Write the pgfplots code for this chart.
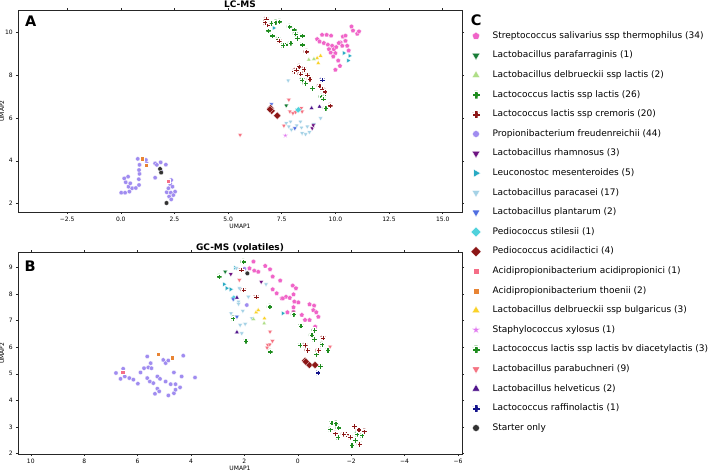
\documentclass[border=0pt]{standalone}
\usepackage{pgfplots}
\pgfplotsset{compat=1.18}
\usepackage{fontspec}
\setmainfont{DejaVu Sans}

\definecolor{cStrep}{RGB}{240,100,200}
\definecolor{cParaf}{RGB}{25,125,55}
\definecolor{cDelbL}{RGB}{175,222,135}
\definecolor{cLactis}{RGB}{30,140,30}
\definecolor{cCrem}{RGB}{140,22,22}
\definecolor{cProp}{RGB}{160,140,240}
\definecolor{cRham}{RGB}{110,20,130}
\definecolor{cLeuc}{RGB}{40,170,195}
\definecolor{cParac}{RGB}{165,210,230}
\definecolor{cPlant}{RGB}{80,110,225}
\definecolor{cStil}{RGB}{80,210,220}
\definecolor{cAcidil}{RGB}{140,22,22}
\definecolor{cAcidip}{RGB}{245,110,135}
\definecolor{cThoe}{RGB}{232,132,52}
\definecolor{cBulg}{RGB}{250,210,40}
\definecolor{cXyl}{RGB}{225,120,240}
\definecolor{cDiac}{RGB}{30,140,30}
\definecolor{cParab}{RGB}{245,115,130}
\definecolor{cHelv}{RGB}{80,20,140}
\definecolor{cRaff}{RGB}{20,20,140}
\definecolor{cStart}{RGB}{50,50,50}
\definecolor{frame}{RGB}{38,38,38}

\pgfdeclareplotmark{Pplus}{%
  \pgfpathmoveto{\pgfpoint{-0.42\pgfplotmarksize}{\pgfplotmarksize}}%
  \pgfpathlineto{\pgfpoint{0.42\pgfplotmarksize}{\pgfplotmarksize}}%
  \pgfpathlineto{\pgfpoint{0.42\pgfplotmarksize}{0.42\pgfplotmarksize}}%
  \pgfpathlineto{\pgfpoint{\pgfplotmarksize}{0.42\pgfplotmarksize}}%
  \pgfpathlineto{\pgfpoint{\pgfplotmarksize}{-0.42\pgfplotmarksize}}%
  \pgfpathlineto{\pgfpoint{0.42\pgfplotmarksize}{-0.42\pgfplotmarksize}}%
  \pgfpathlineto{\pgfpoint{0.42\pgfplotmarksize}{-\pgfplotmarksize}}%
  \pgfpathlineto{\pgfpoint{-0.42\pgfplotmarksize}{-\pgfplotmarksize}}%
  \pgfpathlineto{\pgfpoint{-0.42\pgfplotmarksize}{-0.42\pgfplotmarksize}}%
  \pgfpathlineto{\pgfpoint{-\pgfplotmarksize}{-0.42\pgfplotmarksize}}%
  \pgfpathlineto{\pgfpoint{-\pgfplotmarksize}{0.42\pgfplotmarksize}}%
  \pgfpathlineto{\pgfpoint{-0.42\pgfplotmarksize}{0.42\pgfplotmarksize}}%
  \pgfpathclose
  \pgfusepathqfillstroke}
\pgfdeclareplotmark{fstar}{%
  \pgfpathmoveto{\pgfpoint{0pt}{\pgfplotmarksize}}%
  \pgfpathlineto{\pgfpoint{-0.223\pgfplotmarksize}{0.307\pgfplotmarksize}}%
  \pgfpathlineto{\pgfpoint{-0.951\pgfplotmarksize}{0.309\pgfplotmarksize}}%
  \pgfpathlineto{\pgfpoint{-0.361\pgfplotmarksize}{-0.117\pgfplotmarksize}}%
  \pgfpathlineto{\pgfpoint{-0.588\pgfplotmarksize}{-0.809\pgfplotmarksize}}%
  \pgfpathlineto{\pgfpoint{0pt}{-0.38\pgfplotmarksize}}%
  \pgfpathlineto{\pgfpoint{0.588\pgfplotmarksize}{-0.809\pgfplotmarksize}}%
  \pgfpathlineto{\pgfpoint{0.361\pgfplotmarksize}{-0.117\pgfplotmarksize}}%
  \pgfpathlineto{\pgfpoint{0.951\pgfplotmarksize}{0.309\pgfplotmarksize}}%
  \pgfpathlineto{\pgfpoint{0.223\pgfplotmarksize}{0.307\pgfplotmarksize}}%
  \pgfpathclose
  \pgfusepathqfillstroke}

\pgfplotsset{
  mk/.style n args={3}{only marks, mark=#1,
    mark options={fill=#2, draw=white, line width=0.25pt, #3}},
  sStrep/.style={mk={pentagon*}{cStrep}{}, mark size=2.5pt},
  sParaf/.style={mk={triangle*}{cParaf}{rotate=180}, mark size=2.6pt},
  sDelbL/.style={mk={triangle*}{cDelbL}{}, mark size=2.6pt},
  sLactis/.style={mk={Pplus}{cLactis}{}, mark size=2.7pt},
  sCrem/.style={mk={Pplus}{cCrem}{}, mark size=2.7pt},
  sProp/.style={mk={*}{cProp}{}, mark size=2.2pt},
  sRham/.style={mk={triangle*}{cRham}{rotate=180}, mark size=2.6pt},
  sLeuc/.style={mk={triangle*}{cLeuc}{rotate=-90}, mark size=2.6pt},
  sParac/.style={mk={triangle*}{cParac}{rotate=180}, mark size=2.6pt},
  sPlant/.style={mk={triangle*}{cPlant}{rotate=180}, mark size=2.6pt},
  sStil/.style={mk={square*}{cStil}{rotate=45}, mark size=2.3pt},
  sAcidil/.style={mk={square*}{cAcidil}{rotate=45}, mark size=2.6pt},
  sAcidip/.style={mk={square*}{cAcidip}{}, mark size=2.1pt},
  sThoe/.style={mk={square*}{cThoe}{}, mark size=2.1pt},
  sBulg/.style={mk={triangle*}{cBulg}{}, mark size=2.6pt},
  sXyl/.style={mk={fstar}{cXyl}{}, mark size=2.8pt},
  sDiac/.style={mk={Pplus}{cDiac}{}, mark size=2.7pt},
  sParab/.style={mk={triangle*}{cParab}{rotate=180}, mark size=2.6pt},
  sHelv/.style={mk={triangle*}{cHelv}{}, mark size=2.6pt},
  sRaff/.style={mk={Pplus}{cRaff}{}, mark size=2.7pt},
  sStart/.style={mk={*}{cStart}{}, mark size=2.3pt},
  panel/.style={scale only axis, width=444pt, anchor=south west,
    axis line style={frame, line width=0.9pt},
    tick align=outside, major tick length=2pt,
    tick style={frame, line width=0.5pt},
    tick label style={font=\fontsize{6}{7}\selectfont},
    label style={font=\fontsize{6}{7}\selectfont},
    xticklabel style={anchor=center, yshift=-5pt},
    yticklabel style={anchor=east, inner sep=0pt, xshift=-3pt},
    xlabel={UMAP1}, ylabel={UMAP2},
    clip=false},
}

\begin{document}
\begin{tikzpicture}
\path[use as bounding box] (0pt,0pt) rectangle (708pt,471pt);

% ---------------- Panel A: LC-MS ----------------
\begin{axis}[panel, at={(18pt,259pt)}, height=202pt,
  xmin=-4.79, xmax=15.9, ymin=1.61, ymax=11.04,
  xtick={-2.5,0,2.5,5,7.5,10,12.5,15},
  xticklabels={−2.5,0.0,2.5,5.0,7.5,10.0,12.5,15.0},
  ytick={2,4,6,8,10}, yticklabels={2,4,6,8,10},
  xlabel style={at={(rel axis cs:0.5,-0.073)}, anchor=center},
  ylabel style={at={(rel axis cs:-0.036,0.5)}, anchor=center}]
\addplot[sProp] coordinates {(0.02,2.51)(0.20,2.51)(0.40,2.56)(0.36,2.79)(0.53,2.72)(0.70,2.73)(0.85,2.87)(0.23,3.00)(0.44,2.95)(0.16,3.18)(0.34,3.26)(0.84,3.14)(0.87,3.39)(0.85,3.57)(0.87,3.81)(0.79,4.09)(1.03,4.07)(1.21,3.88)(1.17,4.04)(1.60,3.88)(1.86,3.93)(2.10,3.82)(1.60,3.21)(1.88,3.50)(2.30,2.92)(2.41,2.79)(2.53,2.56)(2.14,2.53)(2.33,2.51)(2.25,2.33)(2.35,2.20)(2.45,2.40)(2.22,2.72)(1.68,3.81)(2.35,3.10)};
\addplot[sThoe] coordinates {(0.98,4.10)(1.18,3.80)};
\addplot[sAcidip] coordinates {(2.19,3.06)};
\addplot[sStart] coordinates {(1.83,3.62)(1.88,3.45)(2.13,2.03)};
\addplot[sStrep] coordinates {(9.38,9.88)(9.59,9.88)(9.80,9.84)(9.15,9.68)(9.26,9.57)(9.46,9.50)(9.65,9.42)(9.85,9.37)(9.70,9.21)(9.93,9.21)(10.04,9.31)(10.24,9.52)(10.35,9.80)(10.47,9.60)(10.32,9.37)(10.55,9.37)(10.0,9.03)(9.90,8.87)(10.13,8.68)(10.21,8.43)(10.0,8.25)(10.75,10.27)(10.82,10.08)(11.02,9.93)(11.10,10.04)(10.47,9.84)(10.16,9.50)(9.78,9.05)(10.62,9.15)};
\addplot[sLactis] coordinates {(7.02,10.43)(7.21,10.46)(7.39,10.50)(6.87,10.08)(7.05,9.84)(7.33,9.68)(7.67,9.42)(7.86,10.27)(8.07,10.12)(8.14,9.93)(8.22,9.73)(8.45,9.84)(8.45,9.42)(7.91,9.50)(8.53,7.70)(8.45,7.78)(8.92,7.39)(9.35,7.00)(9.46,6.93)(9.51,7.16)(9.42,7.31)(9.54,6.46)};
\addplot[sDiac] coordinates {(7.55,9.40)(8.60,7.62)(9.43,6.89)};
\addplot[sCrem] coordinates {(6.77,10.62)(6.82,10.35)(6.71,10.46)(7.37,9.60)(8.65,9.10)(8.30,8.40)(8.53,8.28)(8.07,8.17)(8.17,8.25)(8.37,8.06)(8.69,8.01)(9.26,7.50)(9.38,7.35)(9.51,7.23)(9.75,6.58)(8.80,7.82)};
\addplot[sLeuc] coordinates {(10.40,9.03)(10.66,8.90)(10.60,8.68)(7.13,10.20)(8.20,6.35)};
\addplot[sBulg] coordinates {(9.15,8.79)(9.31,8.90)(9.20,8.56)};
\addplot[sDelbL] coordinates {(8.76,8.72)(9.00,8.75)};
\addplot[sParac] coordinates {(7.80,7.75)(7.71,5.76)(7.83,5.60)(8.37,5.83)(8.42,5.55)(8.45,5.29)(8.61,5.24)(8.79,5.34)(8.69,5.60)(9.00,5.71)(9.31,5.99)(7.91,5.83)(8.20,5.65)(7.95,5.45)};
\addplot[sPlant] coordinates {(8.11,5.52)(7.02,6.64)};
\addplot[sRham] coordinates {(8.92,5.52)(8.97,5.66)};
\addplot[sParab] coordinates {(5.56,5.21)(7.83,6.85)(7.88,6.30)(8.02,6.22)(8.14,6.27)(8.41,6.46)(7.60,5.64)(8.45,6.30)};
\addplot[sStil] coordinates {(8.27,6.38)};
\addplot[sAcidil] coordinates {(6.98,6.46)(7.03,6.33)(7.29,6.11)(6.95,6.40)};
\addplot[sParaf] coordinates {(7.71,6.58)};
\addplot[sHelv] coordinates {(8.89,6.46)(9.26,6.53)};
\addplot[sRaff] coordinates {(9.38,7.78)};
\addplot[sXyl] coordinates {(7.67,5.18)};
\end{axis}

% ---------------- Panel B: GC-MS ----------------
\begin{axis}[panel, at={(18pt,17pt)}, height=201.7pt, x dir=reverse,
  xmin=-6.15, xmax=10.48, ymin=1.99, ymax=9.56,
  xtick={-6,-4,-2,0,2,4,6,8,10},
  xticklabels={−6,−4,−2,0,2,4,6,8,10},
  ytick={2,3,4,5,6,7,8,9}, yticklabels={2,3,4,5,6,7,8,9},
  xlabel style={at={(rel axis cs:0.5,-0.07)}, anchor=center},
  ylabel style={at={(rel axis cs:-0.036,0.5)}, anchor=center}]
\addplot[sProp] coordinates {(6.81,5.03)(6.64,4.81)(6.54,5.19)(6.48,4.90)(6.31,4.84)(6.16,4.78)(5.99,4.63)(5.89,5.05)(5.76,5.21)(5.64,5.65)(5.60,5.24)(5.51,5.40)(5.48,5.21)(5.64,4.84)(5.54,4.71)(5.41,4.65)(5.26,4.90)(5.16,4.81)(5.26,4.44)(5.19,4.34)(5.35,4.25)(5.04,5.52)(4.95,5.40)(4.85,5.50)(4.95,4.71)(4.85,4.19)(4.76,4.61)(4.64,5.05)(4.58,4.61)(4.64,4.27)(4.58,4.40)(4.41,4.49)(4.35,4.90)(4.29,5.68)(3.85,4.86)(2.00,8.94)(1.91,7.58)};
\addplot[sAcidip] coordinates {(6.56,5.06)};
\addplot[sThoe] coordinates {(5.23,5.75)(4.70,5.61)};
\addplot[sStrep] coordinates {(1.66,9.21)(1.81,8.96)(1.63,8.87)(1.48,8.83)(1.22,9.05)(1.04,8.92)(0.94,8.65)(0.66,8.50)(0.94,8.17)(0.79,8.02)(0.60,7.83)(0.44,7.89)(0.30,7.85)(0.19,8.31)(0.07,8.21)(0.16,7.98)(0.13,7.71)(-0.02,7.68)(0.16,7.50)(0.16,7.33)(0.39,7.31)(-0.15,7.21)(-0.27,7.02)(-0.44,7.02)(-0.44,7.61)(-0.61,7.56)(-0.58,7.39)(-0.69,7.31)(-0.77,7.14)(-0.65,6.77)(0.56,7.83)};
\addplot[sLactis] coordinates {(2.04,9.21)(2.95,8.65)(1.06,7.52)(2.43,7.08)(1.95,6.23)(0.16,7.23)(-0.11,6.80)(-0.52,6.46)(-0.61,6.30)(-0.62,6.64)(-0.09,6.08)(-1.12,5.89)(-0.69,5.73)(1.04,5.83)(-0.84,5.29)(-1.27,3.16)(-1.42,3.14)(-1.21,2.91)(-1.52,2.98)(-2.02,2.32)(-2.15,2.51)(-2.21,2.74)(-2.40,2.69)};
\addplot[sDiac] coordinates {(-1.50,2.62)(-2.30,2.40)(-0.90,6.10)};
\addplot[sCrem] coordinates {(2.12,8.90)(2.04,8.15)(1.56,7.89)(-0.27,6.08)(-0.36,5.89)(-0.94,6.35)(-0.77,5.89)(-1.81,2.73)(-1.96,2.63)(-2.11,3.03)(-2.49,2.84)(-2.31,2.36)(-1.71,2.74)(-2.28,2.90)(-1.40,2.76)};
\addplot[sLeuc] coordinates {(2.35,8.98)(2.76,8.36)(2.66,8.21)(2.51,8.17)(0.56,7.27)};
\addplot[sParac] coordinates {(2.19,8.21)(2.37,7.86)(2.22,7.71)(1.85,7.89)(2.06,7.36)(2.50,7.27)(2.16,6.83)(1.97,6.87)(1.72,7.08)(1.19,8.36)(2.10,6.52)(2.30,8.96)(2.22,7.62)};
\addplot[sStil] coordinates {(2.40,7.84)};
\addplot[sPlant] coordinates {(2.28,7.14)(2.42,7.80)};
\addplot[sRham] coordinates {(2.51,8.74)(1.37,8.45)};
\addplot[sHelv] coordinates {(2.28,7.86)(2.28,6.56)};
\addplot[sBulg] coordinates {(1.56,7.31)(1.48,7.39)(1.25,7.08)};
\addplot[sDelbL] coordinates {(1.26,6.89)(1.66,7.05)};
\addplot[sParaf] coordinates {(2.72,8.83)};
\addplot[sParab] coordinates {(2.19,8.52)(1.04,6.58)(0.95,6.23)(1.12,6.08)(1.15,5.98)(1.05,6.10)(-1.21,6.02)};
\addplot[sAcidil] coordinates {(-0.27,5.49)(-0.43,5.33)(-0.65,5.33)(-0.30,5.45)};
\addplot[sRaff] coordinates {(-0.75,5.04)};
\addplot[sStart] coordinates {(1.89,8.77)};
\end{axis}

% ---------------- Labels and legend (pixel frame) ----------------
\begin{axis}[at={(0pt,0pt)}, anchor=south west, scale only axis,
  width=708pt, height=471pt, xmin=0, xmax=708, ymin=0, ymax=471,
  y dir=reverse, hide axis, clip=false,
  legend cell align=left,
  legend image code/.code={\path[draw=none, fill=none] (-5.5pt,-5.5pt) rectangle (5.5pt,5.5pt);
    \draw[#1] plot coordinates {(0pt,0pt)};},
  legend style={at={(axis cs:470.5,30.5)}, anchor=north west, draw=none,
    fill=none, inner sep=0pt, outer sep=0pt,
    font=\fontsize{9}{11}\selectfont, row sep=8.6pt,
    nodes={inner sep=0pt, text height=6.5pt, text depth=2pt},
    /tikz/every odd column/.append style={column sep=11.2pt}}]
\addlegendimage{sStrep, mark size=3.9pt}
\addlegendentry{Streptococcus salivarius ssp thermophilus (34)}
\addlegendimage{sParaf, mark size=4.4pt}
\addlegendentry{Lactobacillus parafarraginis (1)}
\addlegendimage{sDelbL, mark size=4.4pt}
\addlegendentry{Lactobacillus delbrueckii ssp lactis (2)}
\addlegendimage{sLactis, mark size=3.9pt}
\addlegendentry{Lactococcus lactis ssp lactis (26)}
\addlegendimage{sCrem, mark size=3.9pt}
\addlegendentry{Lactococcus lactis ssp cremoris (20)}
\addlegendimage{sProp, mark size=3.4pt}
\addlegendentry{Propionibacterium freudenreichii (44)}
\addlegendimage{sRham, mark size=4.4pt}
\addlegendentry{Lactobacillus rhamnosus (3)}
\addlegendimage{sLeuc, mark size=4.4pt}
\addlegendentry{Leuconostoc mesenteroides (5)}
\addlegendimage{sParac, mark size=4.4pt}
\addlegendentry{Lactobacillus paracasei (17)}
\addlegendimage{sPlant, mark size=4.4pt}
\addlegendentry{Lactobacillus plantarum (2)}
\addlegendimage{sStil, mark size=3.6pt}
\addlegendentry{Pediococcus stilesii (1)}
\addlegendimage{sAcidil, mark size=3.6pt}
\addlegendentry{Pediococcus acidilactici (4)}
\addlegendimage{sAcidip, mark size=3.1pt}
\addlegendentry{Acidipropionibacterium acidipropionici (1)}
\addlegendimage{sThoe, mark size=3.1pt}
\addlegendentry{Acidipropionibacterium thoenii (2)}
\addlegendimage{sBulg, mark size=4.4pt}
\addlegendentry{Lactobacillus delbrueckii ssp bulgaricus (3)}
\addlegendimage{sXyl, mark size=4.2pt}
\addlegendentry{Staphylococcus xylosus (1)}
\addlegendimage{sDiac, mark size=3.9pt}
\addlegendentry{Lactococcus lactis ssp lactis bv diacetylactis (3)}
\addlegendimage{sParab, mark size=4.4pt}
\addlegendentry{Lactobacillus parabuchneri (9)}
\addlegendimage{sHelv, mark size=4.4pt}
\addlegendentry{Lactobacillus helveticus (2)}
\addlegendimage{sRaff, mark size=3.9pt}
\addlegendentry{Lactococcus raffinolactis (1)}
\addlegendimage{sStart, mark size=3.4pt}
\addlegendentry{Starter only}
\node[anchor=base, font=\bfseries\fontsize{9}{10}\selectfont, inner sep=0pt] at (axis cs:240,7.3) {LC-MS};
\node[anchor=base, font=\bfseries\fontsize{9}{10}\selectfont, inner sep=0pt] at (axis cs:240,250.5) {GC-MS (volatiles)};
\node[anchor=base west, font=\bfseries\fontsize{14.5}{15}\selectfont, inner sep=0pt] at (axis cs:25,26.7) {A};
\node[anchor=base west, font=\bfseries\fontsize{14.5}{15}\selectfont, inner sep=0pt] at (axis cs:24.3,271.7) {B};
\node[anchor=base west, font=\bfseries\fontsize{14.5}{15}\selectfont, inner sep=0pt] at (axis cs:470.7,25) {C};
\end{axis}
\end{tikzpicture}
\end{document}
